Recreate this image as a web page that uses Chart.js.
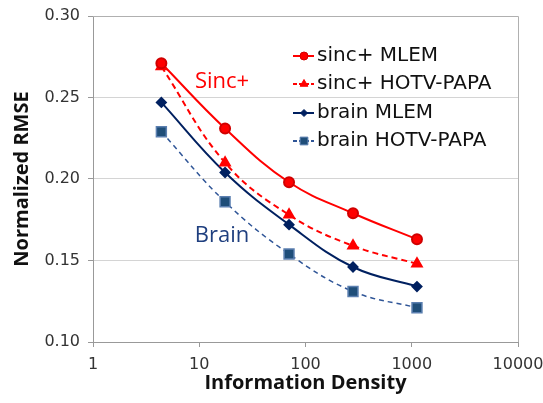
<!DOCTYPE html>
<html>
<head>
<meta charset="utf-8">
<script src="https://cdn.jsdelivr.net/npm/chart.js@4.4.0/dist/chart.umd.min.js"></script>
<style>
  html, body { margin: 0; padding: 0; background: #fff; }
  #wrap { width: 543px; height: 403px; }
</style>
</head>
<body>
<div id="wrap"><canvas id="rmseChart" width="543" height="403"></canvas></div>
<script>
const infoDensity = [4.4, 17.5, 70, 280, 1120];
const sincMlem = [0.271, 0.231, 0.198, 0.179, 0.163];
const sincHotv = [0.269, 0.210, 0.178, 0.159, 0.148];
const brainMlem = [0.247, 0.204, 0.172, 0.146, 0.134];
const brainHotv = [0.229, 0.186, 0.154, 0.131, 0.121];
const seriesNames = ["sinc+ MLEM", "sinc+ HOTV-PAPA", "brain MLEM", "brain HOTV-PAPA"];
const xTickValues = [1, 10, 100, 1000, 10000];
const yTickValues = [0.10, 0.15, 0.20, 0.25, 0.30];
const notes = [
  { text: "Sinc+", x: 16.4, y: 0.2595, color: "#ff0000" },
  { text: "Brain", x: 16.4, y: 0.165, color: "#1f3f7f" },
];

const FONT = "'Open Sans', sans-serif";
const TICK_FONT = "'DejaVu Sans', sans-serif";

function toPoints(values) {
  return values.map(function (v, i) {
    return { x: infoDensity[i], y: v };
  });
}

const frameAndNotes = {
  id: "frameAndNotes",
  afterDraw: function (chart) {
    const ctx = chart.ctx;
    const area = chart.chartArea;
    const xs = chart.scales.x;
    const ys = chart.scales.y;

    ctx.save();
    ctx.strokeStyle = "#b0b0b0";
    ctx.lineWidth = 1;
    ctx.beginPath();
    ctx.moveTo(area.left, area.top + 0.5);
    ctx.lineTo(area.right + 0.5, area.top + 0.5);
    ctx.lineTo(area.right + 0.5, area.bottom);
    ctx.stroke();

    ctx.font = "22px " + FONT;
    ctx.textAlign = "center";
    ctx.textBaseline = "middle";
    notes.forEach(function (n) {
      ctx.fillStyle = n.color;
      ctx.fillText(n.text, xs.getPixelForValue(n.x), ys.getPixelForValue(n.y));
    });

    // legend, drawn by hand so it can sit inside the plot
    const lx = 293;
    const rows = [56, 84, 113, 141];
    const legendRadius = [4, 4.5, 3.5, 5.5];
    chart.data.datasets.forEach(function (ds, i) {
      const y = rows[i];
      ctx.strokeStyle = ds.borderColor;
      ctx.lineWidth = 2;
      ctx.setLineDash(i % 2 ? [4, 2] : []);
      ctx.beginPath();
      ctx.moveTo(lx, y);
      ctx.lineTo(lx + 21, y);
      ctx.stroke();
      ctx.setLineDash([]);
      ctx.fillStyle = ds.pointBackgroundColor;
      ctx.strokeStyle = ds.pointBorderColor;
      ctx.lineWidth = 1;
      Chart.helpers.drawPoint(ctx, {
        pointStyle: ds.pointStyle,
        radius: legendRadius[i],
        borderWidth: 1,
        rotation: 0,
      }, lx + 11, y);
      ctx.fillStyle = "#111";
      ctx.font = "20px " + TICK_FONT;
      ctx.textAlign = "left";
      ctx.fillText(ds.label, lx + 24, y);
    });
    ctx.restore();
  },
};

const ctx = document.getElementById("rmseChart").getContext("2d");

new Chart(ctx, {
  type: "line",
  data: {
    datasets: [
      {
        label: seriesNames[0],
        data: toPoints(sincMlem),
        borderColor: "#ff0000",
        backgroundColor: "#ff0000",
        pointBackgroundColor: "#ff0000",
        pointBorderColor: "#d00000",
        pointStyle: "circle",
        pointRadius: 5,
        borderWidth: 2,
      },
      {
        label: seriesNames[1],
        data: toPoints(sincHotv),
        borderColor: "#ff0000",
        backgroundColor: "#ff0000",
        pointBackgroundColor: "#ff0000",
        pointBorderColor: "#ff0000",
        pointStyle: "triangle",
        pointRadius: 5.5,
        borderWidth: 2,
        borderDash: [6, 4],
      },
      {
        label: seriesNames[2],
        data: toPoints(brainMlem),
        borderColor: "#002060",
        backgroundColor: "#002060",
        pointBackgroundColor: "#002060",
        pointBorderColor: "#002060",
        pointStyle: "rectRot",
        pointRadius: 4.5,
        borderWidth: 2,
      },
      {
        label: seriesNames[3],
        data: toPoints(brainHotv),
        borderColor: "#2f5597",
        backgroundColor: "#1f4e79",
        pointBackgroundColor: "#1f4e79",
        pointBorderColor: "#5b7fb0",
        pointStyle: "rect",
        pointRadius: 7,
        borderWidth: 1.5,
        borderDash: [5, 4],
      },
    ],
  },
  options: {
    responsive: false,
    animation: false,
    layout: { padding: { top: 16, right: 25, left: 0, bottom: 0 } },
    elements: { line: { tension: 0.4, fill: false } },
    plugins: {
      legend: { display: false },
      tooltip: { enabled: false },
    },
    scales: {
      x: {
        type: "logarithmic",
        min: 1,
        max: 10000,
        afterBuildTicks: function (scale) {
          scale.ticks = xTickValues.map(function (v) {
            return { value: v };
          });
        },
        afterFit: function (scale) {
          scale.height = 61;
          scale.paddingLeft = 0;
          scale.paddingRight = 0;
        },
        ticks: {
          autoSkip: false,
          maxRotation: 0,
          padding: 8,
          color: "#333",
          font: { family: TICK_FONT, size: 16 },
          callback: function (v) {
            return String(v);
          },
        },
        grid: {
          drawOnChartArea: false,
          drawTicks: true,
          tickLength: 5,
          tickColor: "#999",
        },
        border: { display: true, color: "#999" },
        title: {
          display: true,
          text: "Information Density",
          color: "#111",
          font: { family: FONT, size: 20, weight: "bold" },
          padding: { top: 0, bottom: 8 },
        },
      },
      y: {
        min: 0.1,
        max: 0.3,
        afterBuildTicks: function (scale) {
          scale.ticks = yTickValues.map(function (v) {
            return { value: v };
          });
        },
        afterFit: function (scale) {
          scale.width = 93;
          scale.paddingTop = 0;
          scale.paddingBottom = 0;
        },
        ticks: {
          padding: 8,
          color: "#333",
          font: { family: TICK_FONT, size: 16 },
          callback: function (v) {
            return Number(v).toFixed(2);
          },
        },
        grid: {
          color: "#d4d4d4",
          tickColor: "#999",
          tickLength: 5,
        },
        border: { display: true, color: "#999" },
        title: {
          display: true,
          text: "Normalized RMSE",
          color: "#111",
          font: { family: FONT, size: 20, weight: "bold" },
          padding: { top: 10, bottom: 0 },
        },
      },
    },
  },
  plugins: [frameAndNotes],
});
</script>
</body>
</html>
